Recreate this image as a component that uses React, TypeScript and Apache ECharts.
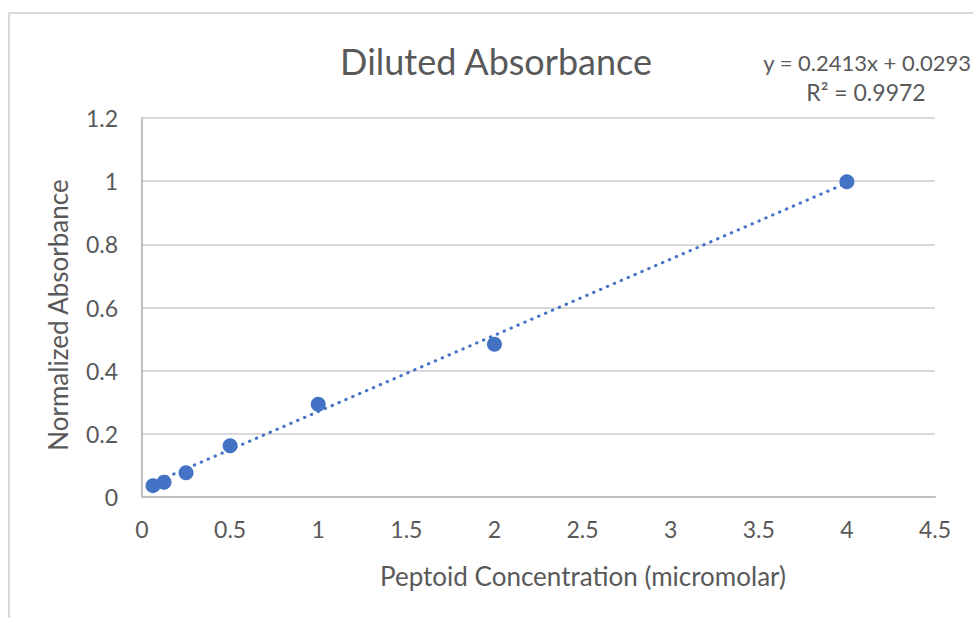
import React, { useEffect, useRef } from "react";
import * as echarts from "echarts";

const concentrations = [0.0625, 0.125, 0.25, 0.5, 1, 2, 4];
const absorbance = [0.036, 0.047, 0.077, 0.162, 0.294, 0.484, 0.998];
const trendSlope = 0.2413;
const trendIntercept = 0.0293;
const trendR2 = 0.9972;

const titleText = "Diluted Absorbance";
const xAxisTitle = "Peptoid Concentration (micromolar)";
const yAxisTitle = "Normalized Absorbance";

const FONT = "Lato";
const BLUE = "#4472C4";
const TEXT = "#595959";

export default function App() {
  const ref = useRef<HTMLDivElement>(null);
  useEffect(() => {
    if (!ref.current) return;
    const chart = echarts.init(ref.current, null, { renderer: "svg" });
    const xMin = Math.min(...concentrations);
    const xMax = Math.max(...concentrations);
    const trend = [
      [xMin, trendSlope * xMin + trendIntercept],
      [xMax, trendSlope * xMax + trendIntercept],
    ];
    chart.setOption({
      animation: false,
      backgroundColor: "#ffffff",
      textStyle: { fontFamily: FONT },
      grid: { left: 142, top: 118, right: 38, bottom: 121, containLabel: false },
      xAxis: {
        type: "value",
        min: 0,
        max: 4.5,
        interval: 0.5,
        axisLine: { show: true, onZero: false, lineStyle: { color: "#bfbfbf", width: 2 } },
        axisTick: { show: false },
        axisLabel: { fontFamily: FONT, fontSize: 23, color: TEXT, margin: 20 },
        splitLine: { show: false },
      },
      yAxis: {
        type: "value",
        min: 0,
        max: 1.2,
        interval: 0.2,
        axisLine: { show: true, lineStyle: { color: "#bfbfbf", width: 2 } },
        axisTick: { show: false },
        axisLabel: { fontFamily: FONT, fontSize: 23, color: TEXT, margin: 24 },
        splitLine: { show: true, lineStyle: { color: "#d9d9d9", width: 2 } },
      },
      graphic: [
        {
          type: "rect",
          silent: true,
          shape: { x: 9, y: 13, width: 1100, height: 800 },
          style: { fill: "none", stroke: "#d9d9d9", lineWidth: 2 },
        },
        {
          type: "text",
          x: 496,
          y: 61,
          style: {
            text: titleText,
            fontFamily: FONT,
            fontSize: 36,
            fill: TEXT,
            textAlign: "center",
            textVerticalAlign: "middle",
          },
        },
        {
          type: "text",
          x: 583,
          y: 576,
          style: {
            text: xAxisTitle,
            fontFamily: FONT,
            fontSize: 26,
            fill: TEXT,
            textAlign: "center",
            textVerticalAlign: "middle",
          },
        },
        {
          type: "text",
          x: 58,
          y: 315,
          rotation: Math.PI / 2,
          style: {
            text: yAxisTitle,
            fontFamily: FONT,
            fontSize: 26,
            fill: TEXT,
            textAlign: "center",
            textVerticalAlign: "middle",
          },
        },
        {
          type: "text",
          x: 971,
          y: 62,
          style: {
            text: `y = ${trendSlope}x + ${trendIntercept}`,
            fontFamily: FONT,
            fontSize: 22,
            fill: TEXT,
            textAlign: "right",
            textVerticalAlign: "middle",
          },
        },
        {
          type: "text",
          x: 866,
          y: 92,
          style: {
            text: `R² = ${trendR2}`,
            fontFamily: FONT,
            fontSize: 23,
            fill: TEXT,
            textAlign: "center",
            textVerticalAlign: "middle",
          },
        },
      ],
      series: [
        {
          type: "line",
          data: trend,
          showSymbol: false,
          symbol: "none",
          silent: true,
          lineStyle: { color: BLUE, width: 3, type: [0.5, 7], cap: "round" },
          z: 2,
        },
        {
          type: "scatter",
          data: concentrations.map((c, i) => [c, absorbance[i]]),
          symbol: "circle",
          symbolSize: 15,
          itemStyle: { color: BLUE, opacity: 1 },
          z: 3,
        },
      ],
    });
    return () => chart.dispose();
  }, []);
  return (
    <div
      ref={ref}
      style={{ position: "fixed", left: 0, top: 0, width: 973, height: 618 }}
    />
  );
}
